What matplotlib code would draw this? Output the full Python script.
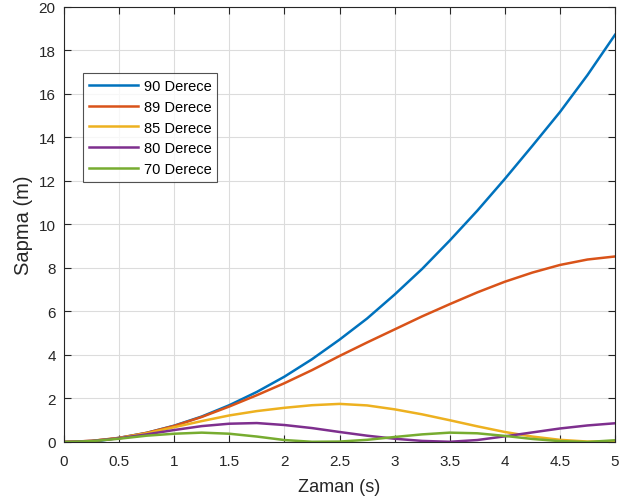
import matplotlib
matplotlib.use("Agg")
import matplotlib.pyplot as plt

plt.rcParams['font.family'] = ['Liberation Sans', 'DejaVu Sans']

# time axis (s)
t = [0, 0.25, 0.5, 0.75, 1, 1.25, 1.5, 1.75, 2, 2.25, 2.5,
     2.75, 3, 3.25, 3.5, 3.75, 4, 4.25, 4.5, 4.75, 5]

# deviation (m)
d90 = [0, 0.0, 0.19, 0.42, 0.75, 1.17, 1.69, 2.30, 3.00, 3.80, 4.70,
       5.67, 6.77, 7.95, 9.25, 10.62, 12.08, 13.60, 15.15, 16.85, 18.70]
d89 = [0, 0.05, 0.19, 0.42, 0.74, 1.15, 1.63, 2.15, 2.70, 3.30, 3.95,
       4.57, 5.17, 5.77, 6.33, 6.87, 7.36, 7.78, 8.13, 8.38, 8.52]
d85 = [0, 0.05, 0.18, 0.40, 0.68, 0.96, 1.22, 1.42, 1.57, 1.69, 1.75,
       1.68, 1.50, 1.27, 1.00, 0.72, 0.46, 0.25, 0.10, 0.02, 0.03]
d80 = [0, 0.05, 0.17, 0.35, 0.55, 0.73, 0.84, 0.87, 0.78, 0.64, 0.46,
       0.29, 0.15, 0.05, 0.01, 0.09, 0.26, 0.44, 0.62, 0.76, 0.86]
d70 = [0, 0.04, 0.15, 0.29, 0.38, 0.43, 0.38, 0.25, 0.09, 0.01, 0.02,
       0.10, 0.23, 0.35, 0.43, 0.40, 0.28, 0.14, 0.04, 0.00, 0.08]

series = [d90, d89, d85, d80, d70]
labels = ['90 Derece', '89 Derece', '85 Derece', '80 Derece', '70 Derece']
colors = ['#0072BD', '#D95319', '#EDB120', '#7E2F8E', '#77AC30']

fig = plt.figure(figsize=(6.31, 5.02), dpi=100)
ax = fig.add_axes([64 / 631, (502 - 443) / 502, (615 - 64) / 631, (443 - 7.5) / 502])

for y, lab, c in zip(series, labels, colors):
    ax.plot(t, y, color=c, lw=1.8, label=lab)

ax.set_xlim(0, 5)
ax.set_ylim(0, 20)
ax.set_xticks([0, 0.5, 1, 1.5, 2, 2.5, 3, 3.5, 4, 4.5, 5])
ax.set_xticklabels(['0', '0.5', '1', '1.5', '2', '2.5', '3', '3.5', '4', '4.5', '5'])
ax.set_yticks(range(0, 21, 2))
ax.grid(True, color='#dcdcdc', lw=0.8)
ax.set_axisbelow(True)
ax.tick_params(direction='in', top=True, right=True, labelsize=11,
               colors='#262626', length=5)
ax.tick_params(axis='x', pad=8.5)
ax.tick_params(axis='y', pad=6)
for s in ax.spines.values():
    s.set_color('#262626')
    s.set_linewidth(0.8)
ax.set_xlabel('Zaman (s)', fontsize=13, color='#262626', labelpad=7)
ax.set_ylabel('Sapma (m)', fontsize=14.5, color='#262626', labelpad=4)

leg = ax.legend(loc='upper left', bbox_to_anchor=(19 / 551, 1 - 66.5 / 435.5),
                fontsize=10.5, frameon=True, fancybox=False, handlelength=3.4,
                borderpad=0.4, labelspacing=0.47, handletextpad=0.35,
                borderaxespad=0)
leg.get_frame().set_edgecolor('#262626')
leg.get_frame().set_linewidth(0.8)

fig.savefig('out.png', dpi=100)
